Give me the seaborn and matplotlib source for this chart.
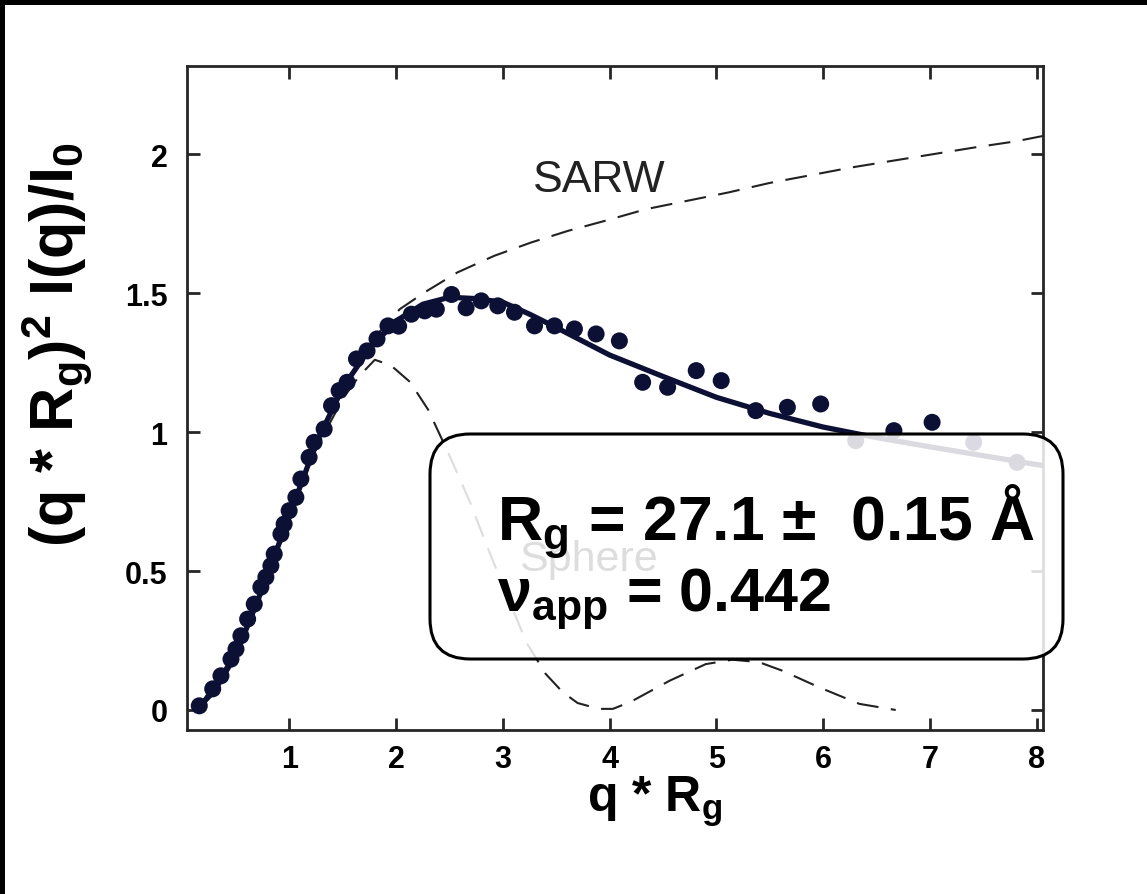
import numpy as np
import pandas as pd
import matplotlib
matplotlib.use("Agg")
import matplotlib.pyplot as plt
import seaborn as sns
from matplotlib.patches import Rectangle, FancyBboxPatch

# ---------------- data ----------------
data_x = [0.155, 0.281, 0.358, 0.452, 0.499, 0.545, 0.608, 0.670, 0.732, 0.779,
          0.826, 0.857, 0.920, 0.950, 0.997, 1.060, 1.107, 1.184, 1.231, 1.325,
          1.394, 1.465, 1.540, 1.628, 1.727, 1.820, 1.923, 2.023, 2.142, 2.267,
          2.376, 2.519, 2.655, 2.797, 2.952, 3.108, 3.296, 3.483, 3.670, 3.873,
          4.091, 4.309, 4.543, 4.811, 5.045, 5.369, 5.665, 5.977, 6.305, 6.663,
          7.021, 7.411, 7.817]
data_y = [0.015, 0.076, 0.123, 0.183, 0.219, 0.267, 0.327, 0.381, 0.442, 0.478,
          0.519, 0.561, 0.633, 0.669, 0.717, 0.765, 0.831, 0.909, 0.963, 1.011,
          1.095, 1.149, 1.179, 1.263, 1.292, 1.335, 1.382, 1.381, 1.424, 1.436,
          1.442, 1.495, 1.447, 1.472, 1.454, 1.431, 1.382, 1.382, 1.371, 1.353,
          1.328, 1.179, 1.161, 1.221, 1.185, 1.077, 1.089, 1.101, 0.969, 1.005,
          1.035, 0.963, 0.891]

fit_x = [0.15, 0.3, 0.5, 0.75, 1.0, 1.25, 1.5, 1.75, 2.0, 2.25, 2.5, 2.75,
         3.0, 3.25, 3.5, 4.0, 4.5, 5.0, 5.5, 6.0, 6.5, 7.0, 7.5, 8.0, 8.07]
fit_y = [0.01, 0.07, 0.20, 0.44, 0.70, 0.96, 1.16, 1.30, 1.40, 1.46, 1.485, 1.48,
         1.467, 1.424, 1.376, 1.277, 1.20, 1.125, 1.067, 1.018, 0.98, 0.947, 0.915,
         0.883, 0.879]

sarw_x = [0.15, 0.5, 1.0, 1.5, 1.75, 2.033, 2.264, 2.572, 2.918, 3.264, 3.611,
          3.957, 4.342, 4.727, 5.112, 5.496, 5.881, 6.266, 6.650, 7.035, 7.420,
          7.805, 8.07]
sarw_y = [0.01, 0.21, 0.71, 1.17, 1.32, 1.442, 1.502, 1.574, 1.634, 1.682, 1.724,
          1.760, 1.802, 1.832, 1.862, 1.896, 1.924, 1.952, 1.976, 2.000, 2.024,
          2.046, 2.066]

sphere_x = [0.15, 0.5, 0.75, 1.0, 1.25, 1.5, 1.65, 1.8, 1.95, 2.13, 2.3, 2.5, 2.7,
            2.85, 3.03, 3.22, 3.4, 3.56, 3.7, 3.9, 4.03, 4.2, 4.56, 4.9, 5.15, 5.4,
            5.62, 5.96, 6.34, 6.68]
sphere_y = [0.01, 0.21, 0.44, 0.70, 0.94, 1.12, 1.20, 1.26, 1.24, 1.18, 1.08, 0.915,
            0.74, 0.59, 0.42, 0.243, 0.13, 0.064, 0.025, 0.004, 0.004, 0.03, 0.105,
            0.165, 0.181, 0.172, 0.141, 0.082, 0.022, 0.0]

x_ticks = [1, 2, 3, 4, 5, 6, 7, 8]
x_tick_labels = ["1", "2", "3", "4", "5", "6", "7", "8"]
y_ticks = [0, 0.5, 1, 1.5, 2]
y_tick_labels = ["0", "0.5", "1", "1.5", "2"]

rg_text = "R$_\\mathbf{g}$ = 27.1 \u00b1  0.15 \u00c5"
nu_text = "\u03bd$_\\mathbf{app}$ = 0.442"

# ---------------- style ----------------
sns.set_theme(style="ticks")
plt.rcParams["font.family"] = ["Liberation Sans", "DejaVu Sans"]
plt.rcParams["mathtext.fontset"] = "custom"
plt.rcParams["mathtext.rm"] = "Liberation Sans"
plt.rcParams["mathtext.bf"] = "Liberation Sans:bold"
plt.rcParams["mathtext.it"] = "Liberation Sans:italic"
plt.rcParams["mathtext.default"] = "bf"
plt.rcParams["text.color"] = "black"

NAVY = "#0c1034"
W, H = 1147, 895
fig = plt.figure(figsize=(W / 100, H / 100), dpi=100)
fig.patch.set_facecolor("black")
fig.add_artist(Rectangle((5 / W, 0), 1, 1 - 6 / H, transform=fig.transFigure,
                         facecolor="white", edgecolor="none", zorder=-5))

ax = fig.add_axes([187 / W, 1 - 731 / H, (1043 - 187) / W, (731 - 67) / H])
ax.set_facecolor("white")

dash = (0, (10.5, 6))
sns.lineplot(x=sarw_x, y=sarw_y, ax=ax, color="#222222", lw=1.5, sort=False,
             estimator=None, linestyle=dash, zorder=2)
sns.lineplot(x=sphere_x, y=sphere_y, ax=ax, color="#222222", lw=1.5, sort=False,
             estimator=None, linestyle=dash, zorder=2)
sns.scatterplot(x=data_x, y=data_y, ax=ax, color=NAVY, s=150, edgecolor="none",
                zorder=3)
sns.lineplot(x=fit_x, y=fit_y, ax=ax, color=NAVY, lw=3.8, sort=False,
             estimator=None, zorder=4)

ax.text(3.90, 1.91, "SARW", fontsize=32, color="#222222", ha="center",
        va="center", fontweight="normal", zorder=5)
ax.text(3.80, 0.545, "Sphere", fontsize=31, color="#222222", ha="center",
        va="center", fontweight="normal", zorder=5)

ax.set_xlim(0.04, 8.06)
ax.set_ylim(-0.072, 2.317)
ax.set_xticks(x_ticks)
ax.set_xticklabels(x_tick_labels)
ax.set_yticks(y_ticks)
ax.set_yticklabels(y_tick_labels)
ax.tick_params(direction="in", length=9, width=2, colors="#262626",
               top=True, right=True, labelsize=22, labelcolor="black")
ax.tick_params(axis="x", pad=10)
ax.tick_params(axis="y", pad=14)
for lab in ax.get_xticklabels() + ax.get_yticklabels():
    lab.set_fontweight("bold")
for sp in ax.spines.values():
    sp.set_visible(True)
    sp.set_linewidth(2)
    sp.set_color("#262626")

ax.set_xlabel("q * R$_\\mathbf{g}$", fontsize=36, fontweight="bold",
              color="black")
ax.xaxis.label.set_va("top")
ax.xaxis.set_label_coords((655 - 187) / 856, -(775 - 731) / 664)
ax.set_ylabel("(q * R$_\\mathbf{g}$)$^\\mathbf{2}$ I(q)/I$_\\mathbf{0}$",
              fontsize=44, fontweight="bold", color="black")
ax.yaxis.label.set_va("center")
ax.yaxis.set_label_coords((57 - 187) / 856, (731 - 345) / 664)

# semi-transparent rounded annotation box (over data and spine)
bx0, bx1 = 430 / W, 1063 / W
by0, by1 = 1 - 660 / H, 1 - 435 / H
box = FancyBboxPatch((bx0, by0), bx1 - bx0, by1 - by0,
                     boxstyle="round,pad=0,rounding_size=0.035",
                     mutation_aspect=W / H, transform=fig.transFigure,
                     facecolor=(1, 1, 1, 0.85), edgecolor="black", lw=2.2,
                     zorder=10)
fig.add_artist(box)
fig.text(497 / W, 1 - 540 / H, rg_text, fontsize=45, fontweight="bold",
         color="black", ha="left", va="baseline", zorder=11)
fig.text(497 / W, 1 - 611 / H, nu_text, fontsize=44, fontweight="bold",
         color="black", ha="left", va="baseline", zorder=11)

fig.savefig("out.png", dpi=100, facecolor=fig.get_facecolor())
